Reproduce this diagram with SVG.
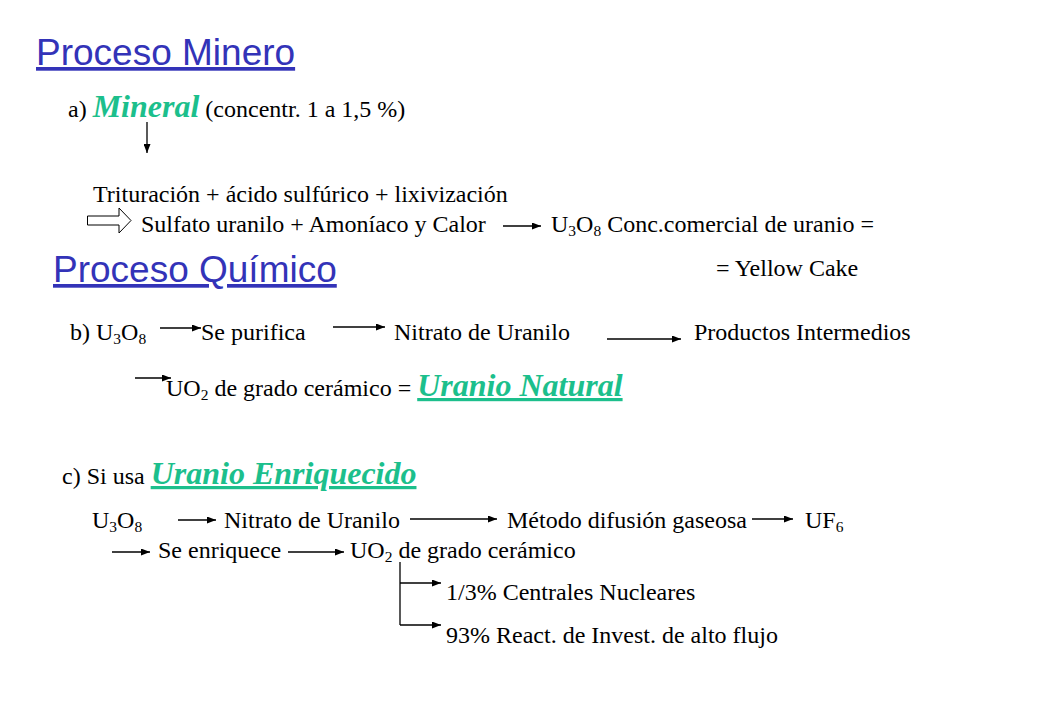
<svg xmlns="http://www.w3.org/2000/svg" width="1040" height="720" viewBox="0 0 1040 720">
<defs>
<marker id="ah" markerUnits="userSpaceOnUse" markerWidth="9" markerHeight="7" refX="9" refY="3.5" orient="auto">
<path d="M0,0 L9,3.5 L0,7 z" fill="#000"/>
</marker>
<style>
.t{font-family:"Liberation Serif","Times New Roman",serif;font-size:24px;fill:#000}
.sub{font-size:15.5px}
.h{font-family:"Liberation Sans",Arial,sans-serif;font-size:37px;fill:#3333B8;text-decoration:underline}
.g{font-family:"Liberation Serif","Times New Roman",serif;font-weight:bold;font-style:italic;font-size:32px;fill:#1CBF8C}
.u{text-decoration:underline}
.c{stroke:#000;stroke-width:1.3;fill:none}
</style>
</defs>
<rect width="1040" height="720" fill="#fff"/>

<g id="title-minero"><text class="h" x="36" y="65">Proceso Minero</text></g>
<g id="mineral"><text class="t" x="68" y="117">a) <tspan class="g">Mineral</tspan> (concentr. 1 a 1,5 %)</text></g>
<g id="trituracion"><text class="t" x="93" y="202">Trituración + ácido sulfúrico + lixivización</text></g>
<g id="sulfato"><text class="t" x="141" y="232">Sulfato uranilo + Amoníaco y Calor</text></g>
<g id="conc"><text class="t" x="551" y="232">U<tspan class="sub" dy="4">3</tspan><tspan dy="-4">O</tspan><tspan class="sub" dy="4">8</tspan><tspan dy="-4"> Conc.comercial de uranio =</tspan></text></g>
<g id="yellow"><text class="t" x="716" y="276">= Yellow Cake</text></g>
<g id="title-quimico"><text class="h" x="53" y="282">Proceso Químico</text></g>

<g id="b-u3o8"><text class="t" x="70" y="340">b) U<tspan class="sub" dy="4">3</tspan><tspan dy="-4">O</tspan><tspan class="sub" dy="4">8</tspan></text></g>
<g id="b-purifica"><text class="t" x="201" y="340">Se purifica</text></g>
<g id="b-nitrato"><text class="t" x="394" y="340">Nitrato de Uranilo</text></g>
<g id="b-productos"><text class="t" x="694" y="340">Productos Intermedios</text></g>
<g id="b-uo2"><text class="t" x="166" y="396">UO<tspan class="sub" dy="4">2</tspan><tspan dy="-4"> de grado cerámico = </tspan><tspan class="g u">Uranio Natural</tspan></text></g>

<g id="c-label"><text class="t" x="62" y="484">c) Si usa <tspan class="g u">Uranio Enriquecido</tspan></text></g>
<g id="c-u3o8"><text class="t" x="92" y="528">U<tspan class="sub" dy="4">3</tspan><tspan dy="-4">O</tspan><tspan class="sub" dy="4">8</tspan></text></g>
<g id="c-nitrato"><text class="t" x="224" y="528">Nitrato de Uranilo</text></g>
<g id="c-metodo"><text class="t" x="507" y="528">Método difusión gaseosa</text></g>
<g id="c-uf6"><text class="t" x="805" y="528">UF<tspan class="sub" dy="4">6</tspan></text></g>
<g id="c-enriquece"><text class="t" x="158" y="558">Se enriquece</text></g>
<g id="c-uo2"><text class="t" x="350" y="558">UO<tspan class="sub" dy="4">2</tspan><tspan dy="-4"> de grado cerámico</tspan></text></g>
<g id="c-centrales"><text class="t" x="446" y="600">1/3% Centrales Nucleares</text></g>
<g id="c-react"><text class="t" x="446" y="643">93% React. de Invest. de alto flujo</text></g>

<g id="connectors">
<line class="c" x1="147" y1="122" x2="147" y2="153" marker-end="url(#ah)"/>
<path d="M87.5,216 L119,216 L119,208 L131,220.5 L119,233 L119,225 L87.5,225 z" fill="#fff" stroke="#000" stroke-width="1"/>
<line class="c" x1="503" y1="226" x2="541" y2="226" marker-end="url(#ah)"/>
<line class="c" x1="160" y1="328" x2="201" y2="328" marker-end="url(#ah)"/>
<line class="c" x1="333" y1="327" x2="385" y2="327" marker-end="url(#ah)"/>
<line class="c" x1="607" y1="339" x2="681" y2="339" marker-end="url(#ah)"/>
<line class="c" x1="135" y1="378" x2="171" y2="378" marker-end="url(#ah)"/>
<line class="c" x1="178" y1="520" x2="216" y2="520" marker-end="url(#ah)"/>
<line class="c" x1="410" y1="519" x2="497" y2="519" marker-end="url(#ah)"/>
<line class="c" x1="752" y1="519" x2="793" y2="519" marker-end="url(#ah)"/>
<line class="c" x1="112" y1="552" x2="150" y2="552" marker-end="url(#ah)"/>
<line class="c" x1="288" y1="552" x2="344" y2="552" marker-end="url(#ah)"/>
<path class="c" d="M400,562 L400,625"/>
<line class="c" x1="400" y1="583" x2="441" y2="583" marker-end="url(#ah)"/>
<line class="c" x1="400" y1="625" x2="441" y2="625" marker-end="url(#ah)"/>
</g>
</svg>
